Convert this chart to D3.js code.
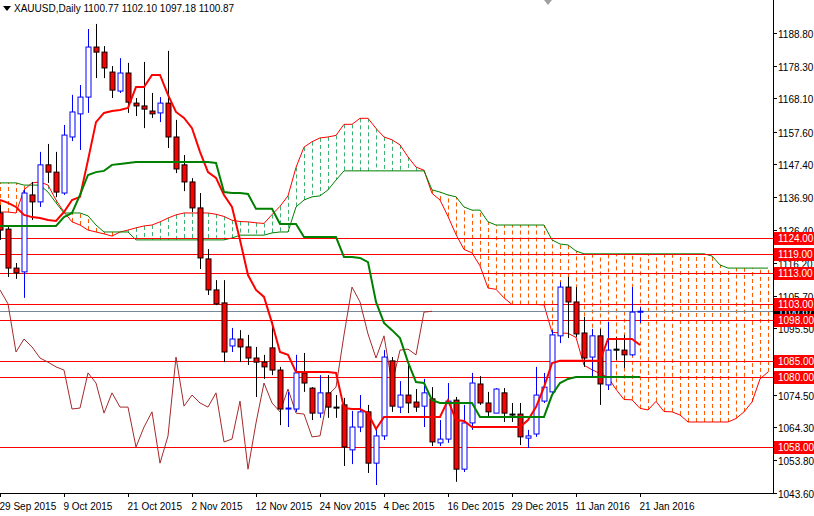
<!DOCTYPE html>
<html><head><meta charset="utf-8">
<script src="https://cdn.jsdelivr.net/npm/d3@7/dist/d3.min.js"></script>
<style>body{margin:0;background:#fff}svg{display:block}text{font-family:"Liberation Sans",Arial,sans-serif;font-size:10px}</style>
</head><body><svg id="c" width="814" height="516"></svg>
<script>
const dateLabels=["29 Sep 2015","9 Oct 2015","21 Oct 2015","2 Nov 2015","12 Nov 2015","24 Nov 2015","4 Dec 2015","16 Dec 2015","29 Dec 2015","11 Jan 2016","21 Jan 2016"];
const priceTicks=[1188.80,1178.30,1168.10,1157.60,1147.40,1136.90,1126.40,1116.20,1105.70,1095.50,1085.00,1074.50,1064.30,1053.80,1043.60];
const levels=[1124,1119,1113,1103,1098,1085,1080,1058];
const lastPrice=1100.87;
const open=[1131.9,1126.8,1114.5,1113.3,1137.6,1135.4,1147.1,1144.8,1138.2,1155.9,1163.2,1168.5,1184.3,1182.7,1176.4,1170.4,1176.1,1166.6,1165.7,1164.1,1163.5,1166.6,1155.9,1147.1,1141.7,1133.5,1117.4,1107.6,1103.5,1089.9,1092.1,1089.6,1086.1,1084.8,1089.3,1082.3,1070.0,1070.0,1081.4,1076.6,1068.7,1075.1,1070.6,1071.3,1057.1,1064.3,1069.1,1052.9,1061.5,1085.2,1070.6,1074.4,1072.2,1070.9,1073.2,1059.3,1060.5,1072.8,1051.0,1065.6,1077.9,1071.9,1068.7,1075.1,1068.4,1068.4,1060.8,1062.1,1072.5,1075.4,1093.1,1108.5,1103.8,1094.0,1086.4,1093.1,1077.6,1088.9,1088.6,1087.1,1100.77];
const high=[1134.4,1128.1,1116.1,1139.2,1141.7,1151.2,1153.7,1151.2,1159.7,1169.2,1172.3,1190.0,1191.6,1184.6,1178.3,1180.8,1179.3,1168.2,1179.6,1169.8,1168.5,1183.1,1161.3,1150.2,1142.9,1138.2,1120.5,1110.7,1110.7,1095.6,1094.9,1093.4,1089.6,1087.1,1097.5,1083.3,1075.4,1087.1,1087.7,1076.9,1080.7,1080.7,1074.4,1073.5,1069.4,1074.4,1071.3,1064.3,1088.6,1086.4,1078.8,1084.2,1076.3,1079.5,1076.9,1066.5,1078.2,1073.8,1071.3,1081.4,1080.4,1075.4,1076.6,1076.6,1071.9,1071.9,1063.4,1083.3,1081.4,1094.9,1110.1,1111.7,1108.5,1099.1,1095.3,1095.3,1097.5,1092.7,1093.4,1108.5,1102.10];
const low=[1123.4,1111.7,1111.1,1105.1,1129.7,1133.8,1141.4,1136.9,1137.6,1154.6,1151.8,1163.5,1174.5,1174.5,1168.2,1169.8,1163.5,1162.5,1158.7,1161.9,1160.6,1152.4,1144.5,1138.8,1132.2,1114.2,1106.0,1102.8,1084.8,1088.0,1084.8,1083.9,1073.8,1079.5,1080.7,1064.9,1064.3,1069.1,1075.4,1066.5,1067.2,1067.2,1067.2,1052.0,1052.6,1062.7,1049.8,1046.0,1060.2,1069.1,1068.7,1068.7,1069.1,1064.3,1058.3,1058.3,1059.3,1047.0,1050.1,1063.4,1071.3,1067.5,1068.7,1065.9,1065.9,1058.6,1057.7,1061.2,1071.9,1074.4,1090.8,1092.4,1092.7,1083.3,1079.8,1071.3,1076.0,1085.5,1082.9,1086.7,1097.18];
const close=[1126.5,1114.5,1113.0,1138.2,1135.4,1147.1,1144.8,1138.5,1156.5,1163.8,1168.5,1184.3,1182.7,1177.7,1170.7,1176.1,1166.9,1165.7,1164.7,1163.2,1166.6,1155.9,1145.8,1141.7,1133.5,1117.7,1107.6,1103.2,1088.0,1092.1,1089.6,1086.1,1084.8,1083.3,1082.3,1070.0,1070.3,1081.4,1078.2,1068.7,1075.1,1070.6,1070.6,1058.0,1064.3,1069.1,1052.9,1061.5,1086.4,1070.9,1074.4,1071.9,1070.6,1075.1,1059.6,1060.5,1072.5,1051.0,1065.6,1078.2,1071.9,1069.1,1076.3,1068.7,1068.4,1061.2,1061.5,1074.4,1076.9,1093.4,1108.5,1103.8,1093.7,1086.1,1093.1,1077.9,1088.6,1088.9,1087.1,1100.6,1100.87];
const tenkan=[1136.0,1135.1,1133.8,1131.3,1130.6,1130.3,1129.7,1129.4,1132.2,1136.0,1137.0,1148.6,1160.6,1163.5,1164.1,1164.4,1165.1,1171.7,1171.7,1175.5,1175.5,1169.2,1163.8,1161.9,1158.7,1151.2,1144.8,1143.0,1137.6,1133.8,1123.4,1112.3,1107.6,1105.4,1097.2,1088.0,1087.1,1081.7,1081.7,1081.7,1081.7,1081.7,1081.4,1070.3,1070.0,1070.0,1068.7,1063.7,1067.5,1067.5,1067.5,1067.5,1067.5,1067.5,1067.5,1067.5,1072.8,1066.5,1066.2,1064.3,1064.3,1064.3,1064.3,1064.3,1064.3,1064.3,1066.5,1070.6,1076.9,1084.5,1085.2,1085.2,1085.2,1085.2,1085.2,1085.2,1092.1,1092.1,1092.1,1092.1,1090.2];
const kijun=[1127.8,1127.8,1127.8,1127.8,1127.8,1127.8,1127.8,1127.8,1130.6,1131.9,1137.6,1143.9,1144.8,1145.2,1147.1,1147.4,1147.7,1148.0,1148.0,1148.0,1148.0,1148.0,1148.0,1148.0,1148.0,1148.0,1148.0,1147.7,1138.5,1138.2,1138.2,1137.9,1133.2,1133.2,1133.2,1128.4,1128.4,1128.4,1124.3,1124.3,1124.3,1124.3,1124.3,1118.0,1118.0,1117.7,1116.4,1103.8,1097.2,1094.9,1092.4,1084.8,1078.5,1078.2,1072.8,1071.9,1071.9,1071.9,1071.9,1071.9,1067.5,1067.5,1067.5,1067.5,1067.5,1067.5,1067.5,1067.5,1067.5,1074.4,1078.2,1079.5,1080.1,1080.1,1080.1,1080.1,1080.1,1080.1,1080.1,1080.1,1080.1];
const senkouA=[1132.2,1132.2,1131.9,1139.2,1141.4,1141.7,1140.7,1136.0,1132.2,1129.1,1128.1,1126.5,1125.9,1125.3,1124.6,1125.9,1126.5,1127.2,1127.8,1128.1,1129.1,1130.3,1131.3,1131.9,1131.9,1131.9,
1131.9,1131.5,1130.8,1129.6,1129.2,1129.1,1128.8,1128.6,1131.4,1134.0,1137.3,1146.3,1152.7,1154.4,1155.6,1155.9,1156.4,1159.9,1159.9,1161.8,1161.8,1158.6,1155.9,1155.0,1153.4,1149.6,1146.4,1145.4,1138.1,1136.0,1130.8,1125.1,1120.4,1119.3,1115.2,1108.2,1107.8,1105.1,1103.0,1103.0,1103.0,1103.0,1102.9,1094.2,1094.0,1093.9,1092.6,1083.8,1082.4,1081.2,1080.0,1076.2,1073.0,1072.9,1070.2,1069.7,1072.4,1069.2,1069.1,1068.1,1065.9,1065.9,1065.9,1065.9,1065.9,1065.9,1067.0,1069.1,1072.2,1079.5,1081.7];
const senkouB=[1141.4,1141.4,1141.4,1140.7,1140.7,1140.7,1138.5,1135.1,1131.9,1131.9,1131.9,1131.0,1128.1,1125.9,1125.9,1125.9,1125.9,1123.4,1123.4,1123.4,1123.4,1123.4,1123.4,1123.4,1123.4,1123.4,1123.4,1123.4,1123.4,1124.0,1124.9,1124.9,1124.9,1124.9,1125.6,1125.9,1125.9,1133.8,1136.0,1137.0,1137.3,1139.2,1142.3,1145.2,1145.2,1145.2,1145.2,1145.2,1145.2,1145.2,1145.2,1145.2,1145.2,1145.2,1139.2,1138.5,1137.6,1137.0,1133.8,1132.8,1132.8,1129.1,1128.1,1128.1,1128.1,1128.1,1128.1,1128.1,1128.1,1123.4,1122.1,1121.8,1119.9,1119.0,1119.0,1119.0,1119.0,1119.0,1119.0,1119.0,1119.0,1119.0,1119.0,1119.0,1119.0,1119.0,1119.0,1119.0,1119.0,1118.3,1115.5,1114.5,1114.5,1114.5,1114.5,1114.5,1114.5];

const svg=d3.select("#c");
const W=773,H=493;
const x=d3.scaleLinear().domain([0,80]).range([0,640]);
const y=d3.scaleLinear().domain([1043.6,1188.8]).range([492.6,32.8]);
svg.append("defs").append("clipPath").attr("id","cp").append("rect").attr("width",W).attr("height",H);
const g=svg.append("g").attr("clip-path","url(#cp)");

const n=Math.min(senkouA.length,senkouB.length);
for(let i=0;i<n;i++){
  g.append("line").attr("x1",x(i)+0.5).attr("x2",x(i)+0.5).attr("y1",y(senkouA[i])).attr("y2",y(senkouB[i]))
   .attr("stroke",senkouA[i]>=senkouB[i]?"#3cb371":"#ff5a00").attr("stroke-width",1).attr("stroke-dasharray","4,3");
}
const ln=d3.line().x((d,i)=>x(i)).y(d=>y(d));
g.append("path").attr("d",ln(senkouA)).attr("fill","none").attr("stroke","#ff0000").attr("stroke-width",1);
g.append("path").attr("d",ln(senkouB)).attr("fill","none").attr("stroke","#008000").attr("stroke-width",1);

levels.forEach(v=>g.append("line").attr("x1",0).attr("x2",W).attr("y1",Math.round(y(v))+0.5).attr("y2",Math.round(y(v))+0.5).attr("stroke","#ff0000").attr("stroke-width",1));
g.append("line").attr("x1",0).attr("x2",W).attr("y1",Math.round(y(lastPrice))+0.5).attr("y2",Math.round(y(lastPrice))+0.5).attr("stroke","#778899");

const chik=close.slice(26);
g.append("path").attr("d",ln(chik)).attr("fill","none").attr("stroke","#a52a2a").attr("stroke-width",1);

close.forEach((c,i)=>{
  const o=open[i],bull=c>o,cx=Math.round(x(i))+0.5;
  const col=bull?"#0000ff":"#000";
  g.append("line").attr("x1",cx).attr("x2",cx).attr("y1",y(high[i])).attr("y2",y(low[i])).attr("stroke",col);
  const t=y(Math.max(o,c)),b=y(Math.min(o,c));
  g.append("rect").attr("x",cx-2.5).attr("y",t).attr("width",5).attr("height",Math.max(b-t,1))
   .attr("fill",bull?"#fff":(c===o?"#000":"#ff0000")).attr("stroke",col);
});
g.append("path").attr("d",ln(tenkan)).attr("fill","none").attr("stroke","#ff0000").attr("stroke-width",2);
g.append("path").attr("d",ln(kijun)).attr("fill","none").attr("stroke","#008000").attr("stroke-width",2);

svg.append("line").attr("x1",W+0.5).attr("x2",W+0.5).attr("y1",0).attr("y2",H).attr("stroke","#000");
svg.append("line").attr("x1",0).attr("x2",W).attr("y1",H+0.5).attr("y2",H+0.5).attr("stroke","#000");
priceTicks.forEach(v=>{
  const yy=Math.round(y(v))+0.5;
  svg.append("line").attr("x1",W).attr("x2",W+4).attr("y1",yy).attr("y2",yy).attr("stroke","#000");
  svg.append("text").attr("x",W+5).attr("y",yy+4).text(v.toFixed(2));
});
dateLabels.forEach((s,k)=>{
  const xx=Math.round(x(k*8))+0.5;
  svg.append("line").attr("x1",xx).attr("x2",xx).attr("y1",H).attr("y2",H+4).attr("stroke","#000");
  svg.append("text").attr("x",xx-1).attr("y",H+17).text(s);
});
function lab(v,fill){
  const yy=Math.round(y(v));
  svg.append("rect").attr("x",W+1).attr("y",yy-6).attr("width",814-W-1).attr("height",13).attr("fill",fill);
  svg.append("text").attr("x",W+5).attr("y",yy+4).attr("fill","#fff").text(v.toFixed(2));
}
lab(lastPrice,"#000");
levels.forEach(v=>lab(v,"#ff0000"));
svg.append("path").attr("d","M3,6 L11,6 L7,11 Z").attr("fill","#000");
svg.append("text").attr("x",14).attr("y",12).text("XAUUSD,Daily  1100.77 1102.10 1097.18 1100.87");
svg.append("path").attr("d","M544,0 L552,0 L548,5 Z").attr("fill","#a0a0a0");
</script></body></html>
